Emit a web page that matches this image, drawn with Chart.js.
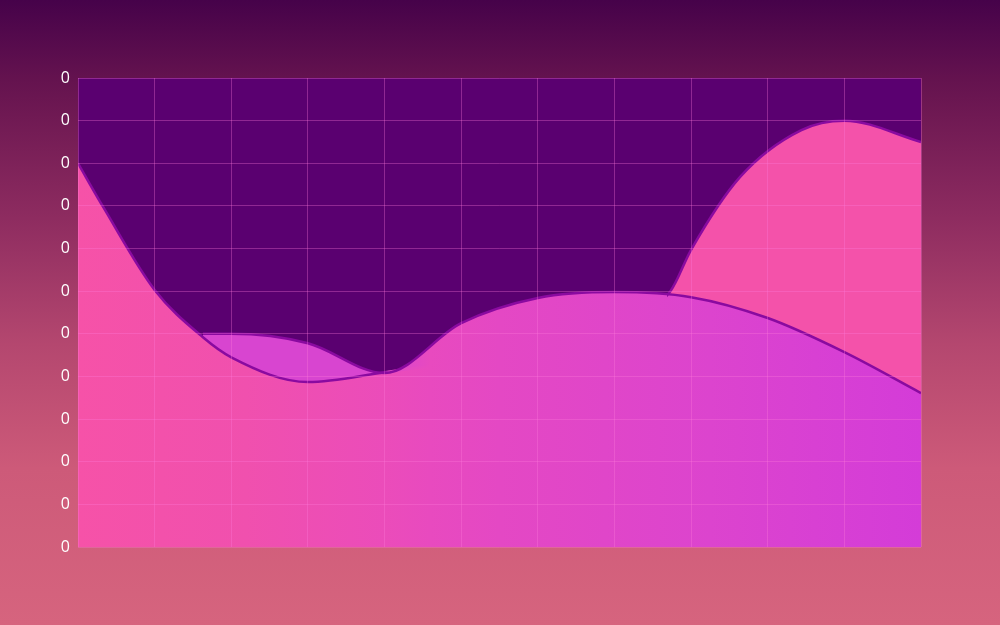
<!DOCTYPE html>
<html>
<head>
<meta charset="utf-8">
<script src="https://cdn.jsdelivr.net/npm/chart.js@4.4.1/dist/chart.umd.min.js"></script>
<style>
html, body { margin: 0; padding: 0; }
body {
	width: 1000px; height: 625px; overflow: hidden;
	background: linear-gradient(180deg, #46024a 0%, #65134f 13%, #8e2c60 35%, #b4476f 55%, #cd5a79 75%, #d6647e 100%);
}
#wrap { position: relative; width: 1000px; height: 625px; }
</style>
</head>
<body>
<div id="wrap"><canvas id="chart"></canvas></div>
<script>
// pink wave (x in grid columns)
const pinkX = [0, 0.33, 1, 1.63, 2, 3, 4, 5.5, 7, 7.73, 8, 8.64, 9.44, 10, 11];
const pinkY = [9, 7.97, 6.03, 4.92, 4.45, 3.87, 4.1, 4.5, 5.2, 6.0, 6.97, 8.68, 9.78, 10, 9.5];

// magenta wave, starts on the pink one
const magentaX = [1.63, 2, 3, 4, 5, 6, 7, 8, 9, 10, 11];
const magentaY = [5.0, 5.0, 4.78, 4.08, 5.25, 5.84, 5.98, 5.86, 5.37, 4.57, 3.61];

const yTickLabels = ['0', '0', '0', '0', '0', '0', '0', '0', '0', '0', '0', '0'];

const PLOT = { left: 78, right: 921, top: 78, bottom: 547 };

const canvas = document.getElementById('chart');
const ctx = canvas.getContext('2d');

function hGrad(stops) {
	const g = ctx.createLinearGradient(PLOT.left, 0, PLOT.right, 0);
	stops.forEach(([o, c]) => g.addColorStop(o, c));
	return g;
}
const frac = u => u / 11;

const lineColor = '#8a0aa0';
// shared right half of the fill so the hidden crossing leaves no seam
const tail = [[frac(4.6), '#e84abf'], [0.5, '#e448c4'], [0.75, '#dc44ce'], [1, '#d43cd8']];
const pinkFill = hGrad([[0, '#f652a8'], [0.2, '#f050ae'], [frac(4), '#eb4cba'], ...tail]);
const magentaFill = hGrad([[0, '#d845d0'], [frac(4.05), '#d845d0'], ...tail]);
// pink line blends into the fill where the magenta wave covers it
const pinkLine = hGrad([
	[0, lineColor], [frac(4), lineColor],
	[frac(4.05), '#e04ac6'], [frac(4.6), '#e84abf'], [0.5, '#e448c4'], [frac(7.69), '#de45cc'],
	[frac(7.69), lineColor], [1, lineColor]
]);

const plotBg = {
	id: 'plotBg',
	beforeDraw(chart) {
		const { ctx, chartArea: a } = chart;
		ctx.save();
		ctx.fillStyle = '#5a0070';
		ctx.fillRect(a.left, a.top, a.width, a.height);
		ctx.restore();
	}
};

const gridColor = 'rgba(255,120,220,0.33)';

new Chart(canvas, {
	type: 'line',
	data: {
		datasets: [
			{
				label: 'magenta',
				data: magentaX.map((x, i) => ({ x, y: magentaY[i] })),
				borderColor: lineColor,
				borderWidth: 2.5,
				backgroundColor: magentaFill,
				fill: { target: 1, above: magentaFill, below: '#f452aa' },
				cubicInterpolationMode: 'monotone',
				pointRadius: 0
			},
			{
				label: 'pink',
				data: pinkX.map((x, i) => ({ x, y: pinkY[i] })),
				borderColor: pinkLine,
				borderWidth: 2.5,
				backgroundColor: pinkFill,
				fill: 'origin',
				cubicInterpolationMode: 'monotone',
				pointRadius: 0
			}
		]
	},
	options: {
		responsive: true, maintainAspectRatio: false,
		animation: false,
		layout: { padding: { left: 0, top: PLOT.top, right: 1000 - PLOT.right, bottom: 625 - PLOT.bottom } },
		plugins: {
			legend: { display: false },
			tooltip: { enabled: false },
			filler: { drawTime: 'beforeDatasetsDraw' }
		},
		scales: {
			x: {
				type: 'linear', min: 0, max: 11,
				ticks: { stepSize: 1, display: false },
				grid: { color: gridColor, drawTicks: false, z: 1 },
				border: { display: false },
				afterFit: s => { s.height = 0; }
			},
			y: {
				min: 0, max: 11,
				ticks: {
					stepSize: 1, padding: 8, color: '#ffffff',
					font: { family: 'Open Sans', size: 16 },
					callback: (v, i) => yTickLabels[i]
				},
				grid: { color: gridColor, drawTicks: false, z: 1 },
				border: { display: false },
				afterFit: s => { s.width = PLOT.left; }
			}
		}
	},
	plugins: [plotBg]
});
</script>
</body>
</html>
